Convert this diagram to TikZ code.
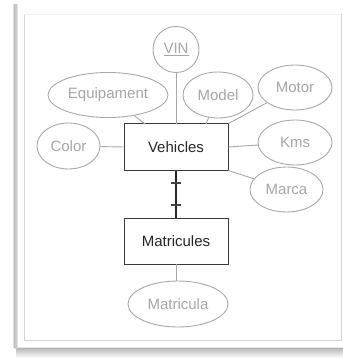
\documentclass[tikz,border=0pt]{standalone}
\usepackage{fontspec}
\setmainfont{Liberation Sans}
\usetikzlibrary{shapes.geometric,calc}
\definecolor{attrline}{HTML}{A8A8A8}
\definecolor{attrtext}{HTML}{A6A6A6}
\definecolor{entline}{HTML}{3A3A3A}
\definecolor{frameline}{HTML}{D4D4D4}
\tikzset{
  attr/.style={ellipse, draw=attrline, line width=0.9pt, text=attrtext,
    font=\fontsize{15}{15}\selectfont, inner sep=0pt},
  entity/.style={rectangle, draw=entline, line width=1pt, text=black!85,
    font=\fontsize{15}{15}\selectfont, minimum width=104pt, minimum height=46pt},
  link/.style={draw=attrline, line width=0.9pt},
  rel/.style={draw=black!85, line width=1.1pt},
  tick/.style={draw=black!75, line width=1.2pt}
}
\begin{document}
\begin{tikzpicture}[x=1pt,y=-1pt]
\useasboundingbox (0,0) rectangle (342,358);
% card with a soft shadow below it
\fill[white] (0,0) rectangle (342,358);
\shade[top color=black!28, bottom color=white] (16,348) rectangle (345,358);
\foreach \i/\o in {0/0.10,1/0.08,2/0.06,3/0.04,4/0.02}
  \fill[black, opacity=\o] (14-\i*0.3,4) rectangle (345,348);
\fill[white] (17,4) rectangle (345,348);
\draw[black!20, line width=2pt] (15.5,4) -- (15.5,349);
\draw[black!12, line width=0.8pt] (17.5,4) -- (17.5,348);
\draw[black!10, line width=0.6pt] (17,347.5) -- (345,347.5);
% inner frame
\draw[frameline, line width=0.9pt] (341,14) -- (341,340) -- (24,340) -- (24,14);
\draw[black!5, line width=0.6pt] (24,14) -- (341,14);

% entities
\node[entity] (veh) at (176,147) {Vehicles};
\node[entity] (mat) at (176,241) {Matricules};

% attributes
\node[circle, draw=attrline, line width=0.9pt, text=attrtext, minimum size=46pt,
  inner sep=0pt, font=\fontsize{15}{15}\selectfont] (vin) at (176,49.5) {\underline{VIN}};
\node[attr, minimum width=120pt, minimum height=45pt] (equip) at (108,95) {Equipament};
\node[attr, minimum width=70pt, minimum height=46pt] (model) at (218,95) {Model};
\node[attr, minimum width=74pt, minimum height=45pt] (motor) at (295,87.5) {Motor};
\node[attr, minimum width=63pt, minimum height=46pt] (color) at (68.5,146) {Color};
\node[attr, minimum width=74pt, minimum height=45pt] (kms) at (295,142.5) {Kms};
\node[attr, minimum width=73pt, minimum height=45pt] (marca) at (286.5,189.5) {Marca};
\node[attr, minimum width=100pt, minimum height=46pt] (matr) at (178,304) {Matricula};

% attribute links, ending on the entity box
\coordinate (vehE) at (145,124);
\coordinate (vehM) at (206,124);
\coordinate (vehV) at (176,124);
\coordinate (matS) at (176,264);
\draw[link] (vin) -- (vehV);
\draw[link] (equip) -- (vehE);
\draw[link] (model) -- (vehM);
\draw[link] (motor) -- (veh.north east);
\draw[link] (color) -- (veh.west);
\draw[link] (kms) -- (veh.east);
\draw[link] (marca) -- (veh.south east);
\draw[link] (matS) -- (matS |- matr.north);

% one-to-one relationship
\draw[rel] (veh) -- (mat);
\coordinate (t1) at (176,183);
\coordinate (t2) at (176,205);
\draw[tick] ($(t1)+(-5,0)$) -- ($(t1)+(5,0)$);
\draw[tick] ($(t2)+(-5,0)$) -- ($(t2)+(5,0)$);
\end{tikzpicture}
\end{document}
